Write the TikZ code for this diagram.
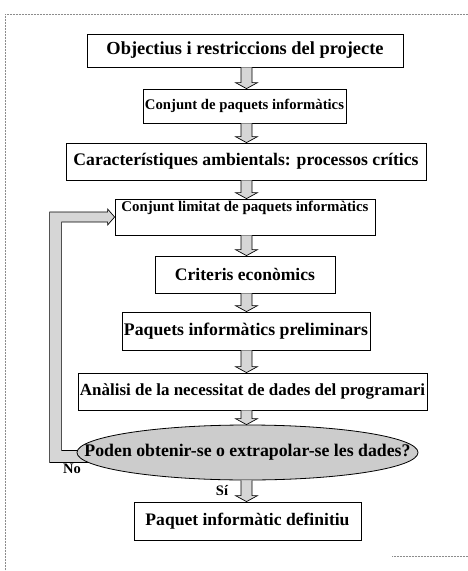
\documentclass[tikz,border=0pt]{standalone}
\usepackage{fontspec}
\setmainfont{Liberation Serif}
\usetikzlibrary{calc,shapes.geometric,backgrounds}

% text scaled to a given width (in pt)
\newcommand{\fitw}[2]{\resizebox{#1pt}{!}{\bfseries #2}}

% hollow block arrow from the bottom of one node to the top of the next
\newcommand{\barrow}[2]{%
  \draw[blockarrow] let \p1=(#1.south), \p2=(#2.north), \p3=(axis) in
    (\x3-5.5pt,\y1) -- (\x3-5.5pt,\y2+6pt) -- (\x3-11pt,\y2+6pt) -- (\x3,\y2)
    -- (\x3+11pt,\y2+6pt) -- (\x3+5.5pt,\y2+6pt) -- (\x3+5.5pt,\y1);}

\tikzset{
  stepbox/.style={draw=black, line width=0.8pt, fill=white, inner sep=0pt},
  decision/.style={ellipse, draw=black, line width=0.8pt, fill=black!20, inner sep=0pt},
  blockarrow/.style={draw=black, line width=0.7pt, fill=black!16, line join=miter},
  answer/.style={font=\bfseries\fontsize{14.5}{14.5}\selectfont, inner sep=0pt},
  scanedge/.style={draw=black!45, line width=0.5pt, densely dotted}
}

\begin{document}
\begin{tikzpicture}[x=1pt, y=-1pt]
\useasboundingbox (0,0) rectangle (468,571);

% page edges
\draw[scanedge] (5,14) -- (468,14);
\draw[scanedge] (5,14) -- (5,571);
\draw[scanedge] (392,556) -- (468,556);

\coordinate (axis) at (246.5,0);

\node[stepbox, minimum width=316pt, minimum height=33pt] (b1) at (245,50.5)
  {\fitw{277}{Objectius i restriccions del projecte}};
\node[stepbox, minimum width=203pt, minimum height=34pt] (b2) at (244.5,106)
  {\fitw{199}{Conjunt de paquets informàtics}};
\node[stepbox, minimum width=360pt, minimum height=37pt] (b3) at (246,161.5)
  {\fitw{345}{Característiques ambientals: processos crítics}};
\node[stepbox, minimum width=260pt, minimum height=36pt, text height=8pt, text depth=20pt] (b4) at (245,217)
  {\fitw{247}{Conjunt limitat de paquets informàtics}};
\node[stepbox, minimum width=180pt, minimum height=37pt] (b5) at (245,274.5)
  {\fitw{140}{Criteris econòmics}};
\node[stepbox, minimum width=248pt, minimum height=38pt] (b6) at (246,331)
  {\fitw{244}{Paquets informàtics preliminars}};
\node[stepbox, minimum width=349pt, minimum height=37pt] (b7) at (252.5,391.5)
  {\fitw{345}{Anàlisi de la necessitat de dades del programari}};
\node[decision, minimum width=341pt, minimum height=55pt] (ell) at (247.5,452.5)
  {\makebox[0pt]{\fitw{326}{Poden obtenir-se o extrapolar-se les dades?}}};
\node[stepbox, minimum width=227pt, minimum height=38pt] (b8) at (247.5,521)
  {\fitw{204}{Paquet informàtic definitiu}};

\barrow{b1}{b2}
\barrow{b2}{b3}
\barrow{b3}{b4}
\barrow{b4}{b5}
\barrow{b5}{b6}
\barrow{b6}{b7}
\barrow{b7}{ell}
\barrow{ell}{b8}

% feedback loop from the decision back to the limited set
\begin{scope}[on background layer]
\draw[blockarrow] let \p1=(ell.west), \p2=(b4.west) in
  (\x1+13pt,\y1-10pt) -- (\x1-27pt,\y1-10pt) -- (\x1-27pt,\y2+5pt)
  -- (\x2-7pt,\y2+5pt) -- (\x2-7pt,\y2+8pt) -- (\x2,\y2) -- (\x2-7pt,\y2-8pt)
  -- (\x2-7pt,\y2-5pt) -- (\x1-15pt,\y2-5pt) -- (\x1-15pt,\y1+2pt) -- (\x1+13pt,\y1+2pt);
\end{scope}

\node[answer] (no) at (72,469) {No};
\node[answer] (si) at (222,491) {Sí};
\end{tikzpicture}
\end{document}
